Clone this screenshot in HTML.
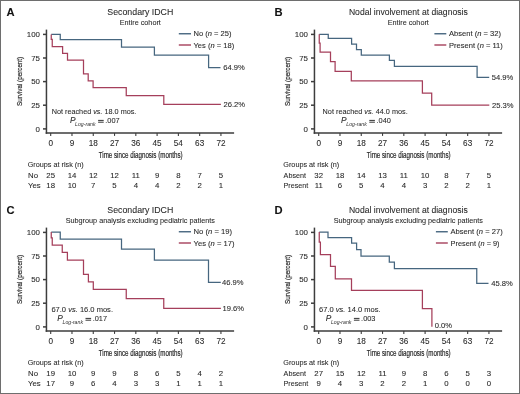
<!DOCTYPE html>
<html><head><meta charset="utf-8"><style>
html,body{margin:0;padding:0;background:#fff;}
body{width:520px;height:394px;overflow:hidden;}
svg{display:block;will-change:transform;}
text{font-family:"Liberation Sans", sans-serif;stroke:#2a2a2a;stroke-width:0.08px;}
</style></head><body>
<svg width="520" height="394" viewBox="0 0 520 394">
<rect x="0" y="0" width="520" height="394" fill="#fff"/>
<text x="6.40" y="15.60" font-size="11.2" text-anchor="start" fill="#111" font-weight="bold">A</text>
<text x="140.30" y="15.45" font-size="9.6" text-anchor="middle" fill="#2a2a2a" textLength="66.00" lengthAdjust="spacingAndGlyphs">Secondary IDCH</text>
<text x="140.30" y="24.70" font-size="7.9" text-anchor="middle" fill="#2a2a2a" textLength="41.10" lengthAdjust="spacingAndGlyphs">Entire cohort</text>
<line x1="46.45" y1="29.60" x2="46.45" y2="133.80" stroke="#3d3d3d" stroke-width="1.5"/>
<line x1="45.70" y1="133.05" x2="234.10" y2="133.05" stroke="#3d3d3d" stroke-width="1.5"/>
<line x1="43.00" y1="34.40" x2="46.45" y2="34.40" stroke="#3d3d3d" stroke-width="1.5"/>
<text x="40.00" y="37.20" font-size="7.9" text-anchor="end" fill="#2a2a2a">100</text>
<line x1="43.00" y1="58.00" x2="46.45" y2="58.00" stroke="#3d3d3d" stroke-width="1.5"/>
<text x="40.00" y="60.80" font-size="7.9" text-anchor="end" fill="#2a2a2a">75</text>
<line x1="43.00" y1="81.60" x2="46.45" y2="81.60" stroke="#3d3d3d" stroke-width="1.5"/>
<text x="40.00" y="84.40" font-size="7.9" text-anchor="end" fill="#2a2a2a">50</text>
<line x1="43.00" y1="105.20" x2="46.45" y2="105.20" stroke="#3d3d3d" stroke-width="1.5"/>
<text x="40.00" y="108.00" font-size="7.9" text-anchor="end" fill="#2a2a2a">25</text>
<line x1="43.00" y1="128.90" x2="46.45" y2="128.90" stroke="#3d3d3d" stroke-width="1.5"/>
<text x="40.00" y="131.70" font-size="7.9" text-anchor="end" fill="#2a2a2a">0</text>
<line x1="50.70" y1="133.05" x2="50.70" y2="135.90" stroke="#3d3d3d" stroke-width="1.1"/>
<text x="50.70" y="145.70" font-size="8.2" text-anchor="middle" fill="#2a2a2a">0</text>
<line x1="71.98" y1="133.05" x2="71.98" y2="135.90" stroke="#3d3d3d" stroke-width="1.1"/>
<text x="71.98" y="145.70" font-size="8.2" text-anchor="middle" fill="#2a2a2a">9</text>
<line x1="93.26" y1="133.05" x2="93.26" y2="135.90" stroke="#3d3d3d" stroke-width="1.1"/>
<text x="93.26" y="145.70" font-size="8.2" text-anchor="middle" fill="#2a2a2a">18</text>
<line x1="114.54" y1="133.05" x2="114.54" y2="135.90" stroke="#3d3d3d" stroke-width="1.1"/>
<text x="114.54" y="145.70" font-size="8.2" text-anchor="middle" fill="#2a2a2a">27</text>
<line x1="135.82" y1="133.05" x2="135.82" y2="135.90" stroke="#3d3d3d" stroke-width="1.1"/>
<text x="135.82" y="145.70" font-size="8.2" text-anchor="middle" fill="#2a2a2a">36</text>
<line x1="157.10" y1="133.05" x2="157.10" y2="135.90" stroke="#3d3d3d" stroke-width="1.1"/>
<text x="157.10" y="145.70" font-size="8.2" text-anchor="middle" fill="#2a2a2a">45</text>
<line x1="178.38" y1="133.05" x2="178.38" y2="135.90" stroke="#3d3d3d" stroke-width="1.1"/>
<text x="178.38" y="145.70" font-size="8.2" text-anchor="middle" fill="#2a2a2a">54</text>
<line x1="199.66" y1="133.05" x2="199.66" y2="135.90" stroke="#3d3d3d" stroke-width="1.1"/>
<text x="199.66" y="145.70" font-size="8.2" text-anchor="middle" fill="#2a2a2a">63</text>
<line x1="220.94" y1="133.05" x2="220.94" y2="135.90" stroke="#3d3d3d" stroke-width="1.1"/>
<text x="220.94" y="145.70" font-size="8.2" text-anchor="middle" fill="#2a2a2a">72</text>
<text x="140.70" y="157.90" font-size="8.4" text-anchor="middle" fill="#2a2a2a" textLength="84.00" lengthAdjust="spacingAndGlyphs" style="stroke-width:0.2px">Time since diagnosis (months)</text>
<text transform="translate(21.90,81.40) rotate(-90)" x="0" y="0" font-size="7.6" text-anchor="middle" fill="#2a2a2a" style="stroke-width:0.2px" textLength="49.2" lengthAdjust="spacingAndGlyphs">Survival (percent)</text>
<path d="M51.25 34.4 H60.25 V39.5 H121.5 V47.1 H154.4 V55.1 H208.6 V67.5 H220.5" fill="none" stroke="#46667f" stroke-width="1.25" stroke-linejoin="miter" stroke-linecap="butt"/>
<path d="M51.25 34.4 V39.3 H52.25 V46.5 H62.6 V53.4 H67.5 V60.0 H83.5 V73.8 H88.2 V80.9 H93.1 V87.5 H126.25 V95.7 H163.8 V104.4 H220.9" fill="none" stroke="#a53f5b" stroke-width="1.25" stroke-linejoin="miter" stroke-linecap="butt"/>
<text x="223.20" y="70.40" font-size="7.6" text-anchor="start" fill="#2a2a2a">64.9%</text>
<text x="223.50" y="107.10" font-size="7.6" text-anchor="start" fill="#2a2a2a">26.2%</text>
<line x1="178.80" y1="33.75" x2="191.00" y2="33.75" stroke="#46667f" stroke-width="1.4"/>
<text x="193.50" y="36.45" font-size="7.7" fill="#2a2a2a" textLength="38.00" lengthAdjust="spacingAndGlyphs">No (<tspan font-style="italic">n</tspan> = 25)</text>
<line x1="178.80" y1="45.00" x2="191.00" y2="45.00" stroke="#a53f5b" stroke-width="1.4"/>
<text x="193.50" y="47.70" font-size="7.7" fill="#2a2a2a" textLength="40.70" lengthAdjust="spacingAndGlyphs">Yes (<tspan font-style="italic">n</tspan> = 18)</text>
<text x="51.70" y="114.40" font-size="8.0" fill="#2a2a2a" textLength="84.70" lengthAdjust="spacingAndGlyphs">Not reached <tspan font-style="italic">vs.</tspan> 18.0 mos.</text>
<text x="69.90" y="123.40" font-size="8.3" font-style="italic" fill="#2a2a2a">P</text>
<text x="75.10" y="125.60" font-size="5.3" font-style="italic" fill="#2a2a2a" style="stroke-width:0" textLength="20.49" lengthAdjust="spacingAndGlyphs">Log-rank</text>
<rect x="98.10" y="119.90" width="5.6" height="0.95" fill="#2a2a2a"/>
<rect x="98.10" y="121.70" width="5.6" height="0.95" fill="#2a2a2a"/>
<text x="105.30" y="123.40" font-size="8.1" fill="#2a2a2a" textLength="14.40" lengthAdjust="spacingAndGlyphs">.007</text>
<text x="27.70" y="167.20" font-size="7.8" text-anchor="start" fill="#2a2a2a" textLength="56.00" lengthAdjust="spacingAndGlyphs">Groups at risk (n)</text>
<text x="28.00" y="178.30" font-size="7.8" text-anchor="start" fill="#2a2a2a">No</text>
<text x="50.70" y="178.30" font-size="7.8" text-anchor="middle" fill="#2a2a2a">25</text>
<text x="71.98" y="178.30" font-size="7.8" text-anchor="middle" fill="#2a2a2a">14</text>
<text x="93.26" y="178.30" font-size="7.8" text-anchor="middle" fill="#2a2a2a">12</text>
<text x="114.54" y="178.30" font-size="7.8" text-anchor="middle" fill="#2a2a2a">12</text>
<text x="135.82" y="178.30" font-size="7.8" text-anchor="middle" fill="#2a2a2a">11</text>
<text x="157.10" y="178.30" font-size="7.8" text-anchor="middle" fill="#2a2a2a">9</text>
<text x="178.38" y="178.30" font-size="7.8" text-anchor="middle" fill="#2a2a2a">8</text>
<text x="199.66" y="178.30" font-size="7.8" text-anchor="middle" fill="#2a2a2a">7</text>
<text x="220.94" y="178.30" font-size="7.8" text-anchor="middle" fill="#2a2a2a">5</text>
<text x="28.00" y="187.80" font-size="7.8" text-anchor="start" fill="#2a2a2a">Yes</text>
<text x="50.70" y="187.80" font-size="7.8" text-anchor="middle" fill="#2a2a2a">18</text>
<text x="71.98" y="187.80" font-size="7.8" text-anchor="middle" fill="#2a2a2a">10</text>
<text x="93.26" y="187.80" font-size="7.8" text-anchor="middle" fill="#2a2a2a">7</text>
<text x="114.54" y="187.80" font-size="7.8" text-anchor="middle" fill="#2a2a2a">5</text>
<text x="135.82" y="187.80" font-size="7.8" text-anchor="middle" fill="#2a2a2a">4</text>
<text x="157.10" y="187.80" font-size="7.8" text-anchor="middle" fill="#2a2a2a">4</text>
<text x="178.38" y="187.80" font-size="7.8" text-anchor="middle" fill="#2a2a2a">2</text>
<text x="199.66" y="187.80" font-size="7.8" text-anchor="middle" fill="#2a2a2a">2</text>
<text x="220.94" y="187.80" font-size="7.8" text-anchor="middle" fill="#2a2a2a">1</text>
<text x="274.40" y="15.60" font-size="11.2" text-anchor="start" fill="#111" font-weight="bold">B</text>
<text x="408.30" y="15.45" font-size="9.6" text-anchor="middle" fill="#2a2a2a" textLength="118.75" lengthAdjust="spacingAndGlyphs">Nodal involvement at diagnosis</text>
<text x="408.30" y="24.70" font-size="7.9" text-anchor="middle" fill="#2a2a2a" textLength="41.10" lengthAdjust="spacingAndGlyphs">Entire cohort</text>
<line x1="314.45" y1="29.60" x2="314.45" y2="133.80" stroke="#3d3d3d" stroke-width="1.5"/>
<line x1="313.70" y1="133.05" x2="502.10" y2="133.05" stroke="#3d3d3d" stroke-width="1.5"/>
<line x1="311.00" y1="34.40" x2="314.45" y2="34.40" stroke="#3d3d3d" stroke-width="1.5"/>
<text x="308.00" y="37.20" font-size="7.9" text-anchor="end" fill="#2a2a2a">100</text>
<line x1="311.00" y1="58.00" x2="314.45" y2="58.00" stroke="#3d3d3d" stroke-width="1.5"/>
<text x="308.00" y="60.80" font-size="7.9" text-anchor="end" fill="#2a2a2a">75</text>
<line x1="311.00" y1="81.60" x2="314.45" y2="81.60" stroke="#3d3d3d" stroke-width="1.5"/>
<text x="308.00" y="84.40" font-size="7.9" text-anchor="end" fill="#2a2a2a">50</text>
<line x1="311.00" y1="105.20" x2="314.45" y2="105.20" stroke="#3d3d3d" stroke-width="1.5"/>
<text x="308.00" y="108.00" font-size="7.9" text-anchor="end" fill="#2a2a2a">25</text>
<line x1="311.00" y1="128.90" x2="314.45" y2="128.90" stroke="#3d3d3d" stroke-width="1.5"/>
<text x="308.00" y="131.70" font-size="7.9" text-anchor="end" fill="#2a2a2a">0</text>
<line x1="318.70" y1="133.05" x2="318.70" y2="135.90" stroke="#3d3d3d" stroke-width="1.1"/>
<text x="318.70" y="145.70" font-size="8.2" text-anchor="middle" fill="#2a2a2a">0</text>
<line x1="339.98" y1="133.05" x2="339.98" y2="135.90" stroke="#3d3d3d" stroke-width="1.1"/>
<text x="339.98" y="145.70" font-size="8.2" text-anchor="middle" fill="#2a2a2a">9</text>
<line x1="361.26" y1="133.05" x2="361.26" y2="135.90" stroke="#3d3d3d" stroke-width="1.1"/>
<text x="361.26" y="145.70" font-size="8.2" text-anchor="middle" fill="#2a2a2a">18</text>
<line x1="382.54" y1="133.05" x2="382.54" y2="135.90" stroke="#3d3d3d" stroke-width="1.1"/>
<text x="382.54" y="145.70" font-size="8.2" text-anchor="middle" fill="#2a2a2a">27</text>
<line x1="403.82" y1="133.05" x2="403.82" y2="135.90" stroke="#3d3d3d" stroke-width="1.1"/>
<text x="403.82" y="145.70" font-size="8.2" text-anchor="middle" fill="#2a2a2a">36</text>
<line x1="425.10" y1="133.05" x2="425.10" y2="135.90" stroke="#3d3d3d" stroke-width="1.1"/>
<text x="425.10" y="145.70" font-size="8.2" text-anchor="middle" fill="#2a2a2a">45</text>
<line x1="446.38" y1="133.05" x2="446.38" y2="135.90" stroke="#3d3d3d" stroke-width="1.1"/>
<text x="446.38" y="145.70" font-size="8.2" text-anchor="middle" fill="#2a2a2a">54</text>
<line x1="467.66" y1="133.05" x2="467.66" y2="135.90" stroke="#3d3d3d" stroke-width="1.1"/>
<text x="467.66" y="145.70" font-size="8.2" text-anchor="middle" fill="#2a2a2a">63</text>
<line x1="488.94" y1="133.05" x2="488.94" y2="135.90" stroke="#3d3d3d" stroke-width="1.1"/>
<text x="488.94" y="145.70" font-size="8.2" text-anchor="middle" fill="#2a2a2a">72</text>
<text x="408.70" y="157.90" font-size="8.4" text-anchor="middle" fill="#2a2a2a" textLength="84.00" lengthAdjust="spacingAndGlyphs" style="stroke-width:0.2px">Time since diagnosis (months)</text>
<text transform="translate(289.90,81.40) rotate(-90)" x="0" y="0" font-size="7.6" text-anchor="middle" fill="#2a2a2a" style="stroke-width:0.2px" textLength="49.2" lengthAdjust="spacingAndGlyphs">Survival (percent)</text>
<path d="M319.25 34.3 H328.25 V38.25 H351.6 V44 H356.5 V49.5 H361.3 V55.2 H389.4 V60.4 H394.4 V66.3 H477.1 V77.4 H489.2" fill="none" stroke="#46667f" stroke-width="1.25" stroke-linejoin="miter" stroke-linecap="butt"/>
<path d="M319.25 34.3 V43 H320.1 V52.1 H330.5 V61.5 H335.1 V71.4 H351.3 V80.8 H422.4 V93 H431.7 V105 H489.3" fill="none" stroke="#a53f5b" stroke-width="1.25" stroke-linejoin="miter" stroke-linecap="butt"/>
<text x="491.80" y="79.80" font-size="7.6" text-anchor="start" fill="#2a2a2a">54.9%</text>
<text x="492.00" y="107.70" font-size="7.6" text-anchor="start" fill="#2a2a2a">25.3%</text>
<line x1="434.40" y1="33.75" x2="446.30" y2="33.75" stroke="#46667f" stroke-width="1.4"/>
<text x="449.00" y="36.45" font-size="7.7" fill="#2a2a2a" textLength="51.90" lengthAdjust="spacingAndGlyphs">Absent (<tspan font-style="italic">n</tspan> = 32)</text>
<line x1="434.40" y1="45.00" x2="446.30" y2="45.00" stroke="#a53f5b" stroke-width="1.4"/>
<text x="449.00" y="47.70" font-size="7.7" fill="#2a2a2a" textLength="53.80" lengthAdjust="spacingAndGlyphs">Present (<tspan font-style="italic">n</tspan> = 11)</text>
<text x="322.60" y="114.40" font-size="8.0" fill="#2a2a2a" textLength="85.10" lengthAdjust="spacingAndGlyphs">Not reached <tspan font-style="italic">vs.</tspan> 44.0 mos.</text>
<text x="341.10" y="123.40" font-size="8.3" font-style="italic" fill="#2a2a2a">P</text>
<text x="346.30" y="125.60" font-size="5.3" font-style="italic" fill="#2a2a2a" style="stroke-width:0" textLength="20.49" lengthAdjust="spacingAndGlyphs">Log-rank</text>
<rect x="369.30" y="119.90" width="5.6" height="0.95" fill="#2a2a2a"/>
<rect x="369.30" y="121.70" width="5.6" height="0.95" fill="#2a2a2a"/>
<text x="376.50" y="123.40" font-size="8.1" fill="#2a2a2a" textLength="14.40" lengthAdjust="spacingAndGlyphs">.040</text>
<text x="283.30" y="167.20" font-size="7.8" text-anchor="start" fill="#2a2a2a" textLength="56.00" lengthAdjust="spacingAndGlyphs">Groups at risk (n)</text>
<text x="283.60" y="178.30" font-size="7.8" text-anchor="start" fill="#2a2a2a" textLength="22.40" lengthAdjust="spacingAndGlyphs">Absent</text>
<text x="318.70" y="178.30" font-size="7.8" text-anchor="middle" fill="#2a2a2a">32</text>
<text x="339.98" y="178.30" font-size="7.8" text-anchor="middle" fill="#2a2a2a">18</text>
<text x="361.26" y="178.30" font-size="7.8" text-anchor="middle" fill="#2a2a2a">14</text>
<text x="382.54" y="178.30" font-size="7.8" text-anchor="middle" fill="#2a2a2a">13</text>
<text x="403.82" y="178.30" font-size="7.8" text-anchor="middle" fill="#2a2a2a">11</text>
<text x="425.10" y="178.30" font-size="7.8" text-anchor="middle" fill="#2a2a2a">10</text>
<text x="446.38" y="178.30" font-size="7.8" text-anchor="middle" fill="#2a2a2a">8</text>
<text x="467.66" y="178.30" font-size="7.8" text-anchor="middle" fill="#2a2a2a">7</text>
<text x="488.94" y="178.30" font-size="7.8" text-anchor="middle" fill="#2a2a2a">5</text>
<text x="283.60" y="187.80" font-size="7.8" text-anchor="start" fill="#2a2a2a" textLength="24.70" lengthAdjust="spacingAndGlyphs">Present</text>
<text x="318.70" y="187.80" font-size="7.8" text-anchor="middle" fill="#2a2a2a">11</text>
<text x="339.98" y="187.80" font-size="7.8" text-anchor="middle" fill="#2a2a2a">6</text>
<text x="361.26" y="187.80" font-size="7.8" text-anchor="middle" fill="#2a2a2a">5</text>
<text x="382.54" y="187.80" font-size="7.8" text-anchor="middle" fill="#2a2a2a">4</text>
<text x="403.82" y="187.80" font-size="7.8" text-anchor="middle" fill="#2a2a2a">4</text>
<text x="425.10" y="187.80" font-size="7.8" text-anchor="middle" fill="#2a2a2a">3</text>
<text x="446.38" y="187.80" font-size="7.8" text-anchor="middle" fill="#2a2a2a">2</text>
<text x="467.66" y="187.80" font-size="7.8" text-anchor="middle" fill="#2a2a2a">2</text>
<text x="488.94" y="187.80" font-size="7.8" text-anchor="middle" fill="#2a2a2a">1</text>
<text x="6.40" y="213.60" font-size="11.2" text-anchor="start" fill="#111" font-weight="bold">C</text>
<text x="140.30" y="213.45" font-size="9.6" text-anchor="middle" fill="#2a2a2a" textLength="66.00" lengthAdjust="spacingAndGlyphs">Secondary IDCH</text>
<text x="140.30" y="222.70" font-size="7.9" text-anchor="middle" fill="#2a2a2a" textLength="149.30" lengthAdjust="spacingAndGlyphs">Subgroup analysis excluding pediatric patients</text>
<line x1="46.45" y1="227.60" x2="46.45" y2="331.80" stroke="#3d3d3d" stroke-width="1.5"/>
<line x1="45.70" y1="331.05" x2="234.10" y2="331.05" stroke="#3d3d3d" stroke-width="1.5"/>
<line x1="43.00" y1="232.40" x2="46.45" y2="232.40" stroke="#3d3d3d" stroke-width="1.5"/>
<text x="40.00" y="235.20" font-size="7.9" text-anchor="end" fill="#2a2a2a">100</text>
<line x1="43.00" y1="256.00" x2="46.45" y2="256.00" stroke="#3d3d3d" stroke-width="1.5"/>
<text x="40.00" y="258.80" font-size="7.9" text-anchor="end" fill="#2a2a2a">75</text>
<line x1="43.00" y1="279.60" x2="46.45" y2="279.60" stroke="#3d3d3d" stroke-width="1.5"/>
<text x="40.00" y="282.40" font-size="7.9" text-anchor="end" fill="#2a2a2a">50</text>
<line x1="43.00" y1="303.20" x2="46.45" y2="303.20" stroke="#3d3d3d" stroke-width="1.5"/>
<text x="40.00" y="306.00" font-size="7.9" text-anchor="end" fill="#2a2a2a">25</text>
<line x1="43.00" y1="326.90" x2="46.45" y2="326.90" stroke="#3d3d3d" stroke-width="1.5"/>
<text x="40.00" y="329.70" font-size="7.9" text-anchor="end" fill="#2a2a2a">0</text>
<line x1="50.70" y1="331.05" x2="50.70" y2="333.90" stroke="#3d3d3d" stroke-width="1.1"/>
<text x="50.70" y="343.70" font-size="8.2" text-anchor="middle" fill="#2a2a2a">0</text>
<line x1="71.98" y1="331.05" x2="71.98" y2="333.90" stroke="#3d3d3d" stroke-width="1.1"/>
<text x="71.98" y="343.70" font-size="8.2" text-anchor="middle" fill="#2a2a2a">9</text>
<line x1="93.26" y1="331.05" x2="93.26" y2="333.90" stroke="#3d3d3d" stroke-width="1.1"/>
<text x="93.26" y="343.70" font-size="8.2" text-anchor="middle" fill="#2a2a2a">18</text>
<line x1="114.54" y1="331.05" x2="114.54" y2="333.90" stroke="#3d3d3d" stroke-width="1.1"/>
<text x="114.54" y="343.70" font-size="8.2" text-anchor="middle" fill="#2a2a2a">27</text>
<line x1="135.82" y1="331.05" x2="135.82" y2="333.90" stroke="#3d3d3d" stroke-width="1.1"/>
<text x="135.82" y="343.70" font-size="8.2" text-anchor="middle" fill="#2a2a2a">36</text>
<line x1="157.10" y1="331.05" x2="157.10" y2="333.90" stroke="#3d3d3d" stroke-width="1.1"/>
<text x="157.10" y="343.70" font-size="8.2" text-anchor="middle" fill="#2a2a2a">45</text>
<line x1="178.38" y1="331.05" x2="178.38" y2="333.90" stroke="#3d3d3d" stroke-width="1.1"/>
<text x="178.38" y="343.70" font-size="8.2" text-anchor="middle" fill="#2a2a2a">54</text>
<line x1="199.66" y1="331.05" x2="199.66" y2="333.90" stroke="#3d3d3d" stroke-width="1.1"/>
<text x="199.66" y="343.70" font-size="8.2" text-anchor="middle" fill="#2a2a2a">63</text>
<line x1="220.94" y1="331.05" x2="220.94" y2="333.90" stroke="#3d3d3d" stroke-width="1.1"/>
<text x="220.94" y="343.70" font-size="8.2" text-anchor="middle" fill="#2a2a2a">72</text>
<text x="140.70" y="355.90" font-size="8.4" text-anchor="middle" fill="#2a2a2a" textLength="84.00" lengthAdjust="spacingAndGlyphs" style="stroke-width:0.2px">Time since diagnosis (months)</text>
<text transform="translate(21.90,279.40) rotate(-90)" x="0" y="0" font-size="7.6" text-anchor="middle" fill="#2a2a2a" style="stroke-width:0.2px" textLength="49.2" lengthAdjust="spacingAndGlyphs">Survival (percent)</text>
<path d="M51.25 232 H60.25 V239.1 H121.5 V249.1 H154.4 V260.2 H208.5 V282.4 H220.8" fill="none" stroke="#46667f" stroke-width="1.25" stroke-linejoin="miter" stroke-linecap="butt"/>
<path d="M51.25 232 V237.9 H52.25 V245.1 H62.25 V252.25 H67.4 V260 H83.5 V274.4 H88.4 V281.9 H93.3 V289.4 H126.25 V298.6 H163.75 V308.25 H220.9" fill="none" stroke="#a53f5b" stroke-width="1.25" stroke-linejoin="miter" stroke-linecap="butt"/>
<text x="222.00" y="285.10" font-size="7.6" text-anchor="start" fill="#2a2a2a">46.9%</text>
<text x="222.50" y="310.70" font-size="7.6" text-anchor="start" fill="#2a2a2a">19.6%</text>
<line x1="178.80" y1="231.75" x2="191.00" y2="231.75" stroke="#46667f" stroke-width="1.4"/>
<text x="193.50" y="234.45" font-size="7.7" fill="#2a2a2a" textLength="38.60" lengthAdjust="spacingAndGlyphs">No (<tspan font-style="italic">n</tspan> = 19)</text>
<line x1="178.80" y1="243.00" x2="191.00" y2="243.00" stroke="#a53f5b" stroke-width="1.4"/>
<text x="193.50" y="245.70" font-size="7.7" fill="#2a2a2a" textLength="41.10" lengthAdjust="spacingAndGlyphs">Yes (<tspan font-style="italic">n</tspan> = 17)</text>
<text x="51.40" y="312.40" font-size="8.0" fill="#2a2a2a" textLength="61.60" lengthAdjust="spacingAndGlyphs">67.0 <tspan font-style="italic">vs.</tspan> 16.0 mos.</text>
<text x="57.30" y="321.40" font-size="8.3" font-style="italic" fill="#2a2a2a">P</text>
<text x="62.50" y="323.60" font-size="5.3" font-style="italic" fill="#2a2a2a" style="stroke-width:0" textLength="20.49" lengthAdjust="spacingAndGlyphs">Log-rank</text>
<rect x="85.50" y="317.90" width="5.6" height="0.95" fill="#2a2a2a"/>
<rect x="85.50" y="319.70" width="5.6" height="0.95" fill="#2a2a2a"/>
<text x="92.70" y="321.40" font-size="8.1" fill="#2a2a2a" textLength="14.40" lengthAdjust="spacingAndGlyphs">.017</text>
<text x="27.70" y="365.20" font-size="7.8" text-anchor="start" fill="#2a2a2a" textLength="56.00" lengthAdjust="spacingAndGlyphs">Groups at risk (n)</text>
<text x="28.00" y="376.30" font-size="7.8" text-anchor="start" fill="#2a2a2a">No</text>
<text x="50.70" y="376.30" font-size="7.8" text-anchor="middle" fill="#2a2a2a">19</text>
<text x="71.98" y="376.30" font-size="7.8" text-anchor="middle" fill="#2a2a2a">10</text>
<text x="93.26" y="376.30" font-size="7.8" text-anchor="middle" fill="#2a2a2a">9</text>
<text x="114.54" y="376.30" font-size="7.8" text-anchor="middle" fill="#2a2a2a">9</text>
<text x="135.82" y="376.30" font-size="7.8" text-anchor="middle" fill="#2a2a2a">8</text>
<text x="157.10" y="376.30" font-size="7.8" text-anchor="middle" fill="#2a2a2a">6</text>
<text x="178.38" y="376.30" font-size="7.8" text-anchor="middle" fill="#2a2a2a">5</text>
<text x="199.66" y="376.30" font-size="7.8" text-anchor="middle" fill="#2a2a2a">4</text>
<text x="220.94" y="376.30" font-size="7.8" text-anchor="middle" fill="#2a2a2a">2</text>
<text x="28.00" y="385.80" font-size="7.8" text-anchor="start" fill="#2a2a2a">Yes</text>
<text x="50.70" y="385.80" font-size="7.8" text-anchor="middle" fill="#2a2a2a">17</text>
<text x="71.98" y="385.80" font-size="7.8" text-anchor="middle" fill="#2a2a2a">9</text>
<text x="93.26" y="385.80" font-size="7.8" text-anchor="middle" fill="#2a2a2a">6</text>
<text x="114.54" y="385.80" font-size="7.8" text-anchor="middle" fill="#2a2a2a">4</text>
<text x="135.82" y="385.80" font-size="7.8" text-anchor="middle" fill="#2a2a2a">3</text>
<text x="157.10" y="385.80" font-size="7.8" text-anchor="middle" fill="#2a2a2a">3</text>
<text x="178.38" y="385.80" font-size="7.8" text-anchor="middle" fill="#2a2a2a">1</text>
<text x="199.66" y="385.80" font-size="7.8" text-anchor="middle" fill="#2a2a2a">1</text>
<text x="220.94" y="385.80" font-size="7.8" text-anchor="middle" fill="#2a2a2a">1</text>
<text x="274.40" y="213.60" font-size="11.2" text-anchor="start" fill="#111" font-weight="bold">D</text>
<text x="408.30" y="213.45" font-size="9.6" text-anchor="middle" fill="#2a2a2a" textLength="118.75" lengthAdjust="spacingAndGlyphs">Nodal involvement at diagnosis</text>
<text x="408.30" y="222.70" font-size="7.9" text-anchor="middle" fill="#2a2a2a" textLength="149.30" lengthAdjust="spacingAndGlyphs">Subgroup analysis excluding pediatric patients</text>
<line x1="314.45" y1="227.60" x2="314.45" y2="331.80" stroke="#3d3d3d" stroke-width="1.5"/>
<line x1="313.70" y1="331.05" x2="502.10" y2="331.05" stroke="#3d3d3d" stroke-width="1.5"/>
<line x1="311.00" y1="232.40" x2="314.45" y2="232.40" stroke="#3d3d3d" stroke-width="1.5"/>
<text x="308.00" y="235.20" font-size="7.9" text-anchor="end" fill="#2a2a2a">100</text>
<line x1="311.00" y1="256.00" x2="314.45" y2="256.00" stroke="#3d3d3d" stroke-width="1.5"/>
<text x="308.00" y="258.80" font-size="7.9" text-anchor="end" fill="#2a2a2a">75</text>
<line x1="311.00" y1="279.60" x2="314.45" y2="279.60" stroke="#3d3d3d" stroke-width="1.5"/>
<text x="308.00" y="282.40" font-size="7.9" text-anchor="end" fill="#2a2a2a">50</text>
<line x1="311.00" y1="303.20" x2="314.45" y2="303.20" stroke="#3d3d3d" stroke-width="1.5"/>
<text x="308.00" y="306.00" font-size="7.9" text-anchor="end" fill="#2a2a2a">25</text>
<line x1="311.00" y1="326.90" x2="314.45" y2="326.90" stroke="#3d3d3d" stroke-width="1.5"/>
<text x="308.00" y="329.70" font-size="7.9" text-anchor="end" fill="#2a2a2a">0</text>
<line x1="318.70" y1="331.05" x2="318.70" y2="333.90" stroke="#3d3d3d" stroke-width="1.1"/>
<text x="318.70" y="343.70" font-size="8.2" text-anchor="middle" fill="#2a2a2a">0</text>
<line x1="339.98" y1="331.05" x2="339.98" y2="333.90" stroke="#3d3d3d" stroke-width="1.1"/>
<text x="339.98" y="343.70" font-size="8.2" text-anchor="middle" fill="#2a2a2a">9</text>
<line x1="361.26" y1="331.05" x2="361.26" y2="333.90" stroke="#3d3d3d" stroke-width="1.1"/>
<text x="361.26" y="343.70" font-size="8.2" text-anchor="middle" fill="#2a2a2a">18</text>
<line x1="382.54" y1="331.05" x2="382.54" y2="333.90" stroke="#3d3d3d" stroke-width="1.1"/>
<text x="382.54" y="343.70" font-size="8.2" text-anchor="middle" fill="#2a2a2a">27</text>
<line x1="403.82" y1="331.05" x2="403.82" y2="333.90" stroke="#3d3d3d" stroke-width="1.1"/>
<text x="403.82" y="343.70" font-size="8.2" text-anchor="middle" fill="#2a2a2a">36</text>
<line x1="425.10" y1="331.05" x2="425.10" y2="333.90" stroke="#3d3d3d" stroke-width="1.1"/>
<text x="425.10" y="343.70" font-size="8.2" text-anchor="middle" fill="#2a2a2a">45</text>
<line x1="446.38" y1="331.05" x2="446.38" y2="333.90" stroke="#3d3d3d" stroke-width="1.1"/>
<text x="446.38" y="343.70" font-size="8.2" text-anchor="middle" fill="#2a2a2a">54</text>
<line x1="467.66" y1="331.05" x2="467.66" y2="333.90" stroke="#3d3d3d" stroke-width="1.1"/>
<text x="467.66" y="343.70" font-size="8.2" text-anchor="middle" fill="#2a2a2a">63</text>
<line x1="488.94" y1="331.05" x2="488.94" y2="333.90" stroke="#3d3d3d" stroke-width="1.1"/>
<text x="488.94" y="343.70" font-size="8.2" text-anchor="middle" fill="#2a2a2a">72</text>
<text x="408.70" y="355.90" font-size="8.4" text-anchor="middle" fill="#2a2a2a" textLength="84.00" lengthAdjust="spacingAndGlyphs" style="stroke-width:0.2px">Time since diagnosis (months)</text>
<text transform="translate(289.90,279.40) rotate(-90)" x="0" y="0" font-size="7.6" text-anchor="middle" fill="#2a2a2a" style="stroke-width:0.2px" textLength="49.2" lengthAdjust="spacingAndGlyphs">Survival (percent)</text>
<path d="M319.25 232 H328 V237.5 H351.6 V243.1 H356.6 V249.5 H361 V256 H389.3 V262 H394.4 V268.5 H476.75 V283.3 H488.5" fill="none" stroke="#46667f" stroke-width="1.25" stroke-linejoin="miter" stroke-linecap="butt"/>
<path d="M319.25 232 V242 H320.4 V254.5 H330.5 V266.3 H335.3 V278.75 H351.5 V290.4 H422.4 V308.6 H431.9 V326.7" fill="none" stroke="#a53f5b" stroke-width="1.25" stroke-linejoin="miter" stroke-linecap="butt"/>
<text x="491.30" y="286.00" font-size="7.6" text-anchor="start" fill="#2a2a2a">45.8%</text>
<text x="434.70" y="328.00" font-size="7.6" text-anchor="start" fill="#2a2a2a">0.0%</text>
<line x1="435.90" y1="231.75" x2="447.80" y2="231.75" stroke="#46667f" stroke-width="1.4"/>
<text x="450.50" y="234.45" font-size="7.7" fill="#2a2a2a" textLength="52.20" lengthAdjust="spacingAndGlyphs">Absent (<tspan font-style="italic">n</tspan> = 27)</text>
<line x1="435.90" y1="243.00" x2="447.80" y2="243.00" stroke="#a53f5b" stroke-width="1.4"/>
<text x="450.50" y="245.70" font-size="7.7" fill="#2a2a2a" textLength="49.10" lengthAdjust="spacingAndGlyphs">Present (<tspan font-style="italic">n</tspan> = 9)</text>
<text x="319.00" y="312.40" font-size="8.0" fill="#2a2a2a" textLength="61.60" lengthAdjust="spacingAndGlyphs">67.0 <tspan font-style="italic">vs.</tspan> 14.0 mos.</text>
<text x="325.70" y="321.40" font-size="8.3" font-style="italic" fill="#2a2a2a">P</text>
<text x="330.90" y="323.60" font-size="5.3" font-style="italic" fill="#2a2a2a" style="stroke-width:0" textLength="20.49" lengthAdjust="spacingAndGlyphs">Log-rank</text>
<rect x="353.90" y="317.90" width="5.6" height="0.95" fill="#2a2a2a"/>
<rect x="353.90" y="319.70" width="5.6" height="0.95" fill="#2a2a2a"/>
<text x="361.10" y="321.40" font-size="8.1" fill="#2a2a2a" textLength="14.40" lengthAdjust="spacingAndGlyphs">.003</text>
<text x="283.30" y="365.20" font-size="7.8" text-anchor="start" fill="#2a2a2a" textLength="56.00" lengthAdjust="spacingAndGlyphs">Groups at risk (n)</text>
<text x="283.60" y="376.30" font-size="7.8" text-anchor="start" fill="#2a2a2a" textLength="22.40" lengthAdjust="spacingAndGlyphs">Absent</text>
<text x="318.70" y="376.30" font-size="7.8" text-anchor="middle" fill="#2a2a2a">27</text>
<text x="339.98" y="376.30" font-size="7.8" text-anchor="middle" fill="#2a2a2a">15</text>
<text x="361.26" y="376.30" font-size="7.8" text-anchor="middle" fill="#2a2a2a">12</text>
<text x="382.54" y="376.30" font-size="7.8" text-anchor="middle" fill="#2a2a2a">11</text>
<text x="403.82" y="376.30" font-size="7.8" text-anchor="middle" fill="#2a2a2a">9</text>
<text x="425.10" y="376.30" font-size="7.8" text-anchor="middle" fill="#2a2a2a">8</text>
<text x="446.38" y="376.30" font-size="7.8" text-anchor="middle" fill="#2a2a2a">6</text>
<text x="467.66" y="376.30" font-size="7.8" text-anchor="middle" fill="#2a2a2a">5</text>
<text x="488.94" y="376.30" font-size="7.8" text-anchor="middle" fill="#2a2a2a">3</text>
<text x="283.60" y="385.80" font-size="7.8" text-anchor="start" fill="#2a2a2a" textLength="24.70" lengthAdjust="spacingAndGlyphs">Present</text>
<text x="318.70" y="385.80" font-size="7.8" text-anchor="middle" fill="#2a2a2a">9</text>
<text x="339.98" y="385.80" font-size="7.8" text-anchor="middle" fill="#2a2a2a">4</text>
<text x="361.26" y="385.80" font-size="7.8" text-anchor="middle" fill="#2a2a2a">3</text>
<text x="382.54" y="385.80" font-size="7.8" text-anchor="middle" fill="#2a2a2a">2</text>
<text x="403.82" y="385.80" font-size="7.8" text-anchor="middle" fill="#2a2a2a">2</text>
<text x="425.10" y="385.80" font-size="7.8" text-anchor="middle" fill="#2a2a2a">1</text>
<text x="446.38" y="385.80" font-size="7.8" text-anchor="middle" fill="#2a2a2a">0</text>
<text x="467.66" y="385.80" font-size="7.8" text-anchor="middle" fill="#2a2a2a">0</text>
<text x="488.94" y="385.80" font-size="7.8" text-anchor="middle" fill="#2a2a2a">0</text>
<rect x="0.5" y="0.5" width="519" height="393" fill="none" stroke="#6e6e6e" stroke-width="1"/>
</svg>
</body></html>
